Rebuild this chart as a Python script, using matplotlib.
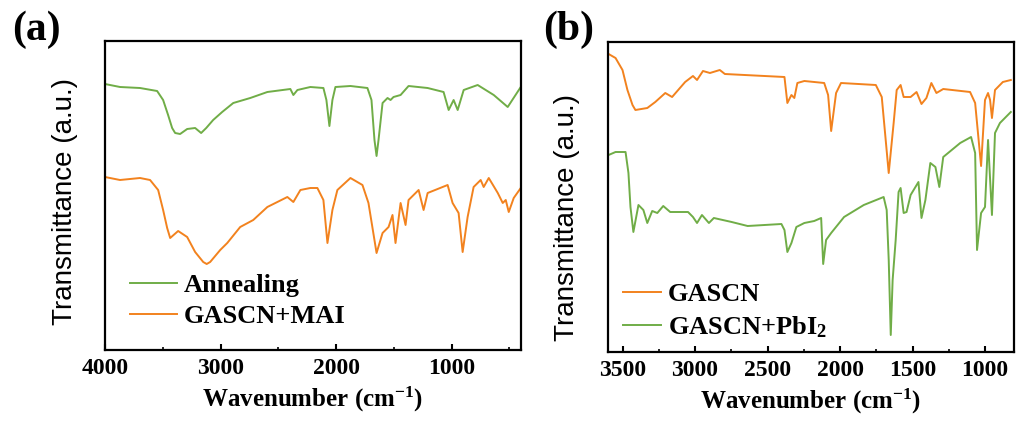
import matplotlib
matplotlib.use("Agg")
import matplotlib.pyplot as plt
from matplotlib.ticker import MultipleLocator

plt.rcParams['mathtext.fontset'] = 'custom'
plt.rcParams['mathtext.rm'] = 'Liberation Serif:bold'
plt.rcParams['mathtext.it'] = 'Liberation Serif:bold'
plt.rcParams['mathtext.bf'] = 'Liberation Serif:bold'

GREEN = '#70AD47'
ORANGE = '#F2821E'

# ---------------- Panel (a) data ----------------
wn_a_anneal = [4000, 3870, 3697, 3549, 3497, 3454, 3419, 3393, 3350, 3289, 3220, 3168, 3124, 3064,
               2986, 2890, 2743, 2595, 2396, 2370, 2335, 2223, 2110, 2084, 2058, 2032, 2006, 1876,
               1729, 1694, 1668, 1650, 1633, 1598, 1555, 1529, 1503, 1442, 1373, 1208, 1070, 1026,
               983, 948, 896, 775, 636, 515, 402]
t_a_anneal = [266, 263, 262, 259, 250, 235, 222, 217, 216, 221, 222, 217, 222, 230,
              238, 247, 252, 258, 261, 255, 260, 263, 262, 250, 224, 250, 263, 264,
              262, 250, 210, 194, 210, 247, 252, 250, 253, 255, 264, 262, 258, 240,
              250, 240, 260, 265, 255, 243, 263]

wn_a_mai = [4000, 3870, 3697, 3610, 3540, 3497, 3462, 3436, 3367, 3289, 3220, 3150, 3120, 3090, 3003,
            2942, 2830, 2717, 2595, 2422, 2370, 2309, 2223, 2162, 2110, 2075, 2032, 1989, 1876,
            1772, 1720, 1650, 1598, 1546, 1512, 1486, 1442, 1399, 1373, 1286, 1243, 1208, 1035,
            992, 940, 905, 862, 810, 749, 723, 679, 601, 558, 532, 506, 463, 402]
t_a_mai = [173, 170, 172, 170, 160, 140, 122, 112, 119, 113, 98, 88, 86, 88, 100,
           107, 123, 130, 143, 153, 148, 160, 162, 162, 150, 107, 140, 160, 172,
           165, 147, 97, 117, 123, 135, 107, 147, 125, 150, 160, 140, 157, 165,
           147, 137, 98, 133, 163, 170, 163, 172, 157, 147, 150, 138, 152, 162]

# ---------------- Panel (b) data ----------------
wn_b_gascn = [3596, 3548, 3500, 3466, 3431, 3411, 3329, 3274, 3205, 3158, 3068, 3014, 2986, 2945,
              2897, 2829, 2794, 2658, 2383, 2363, 2335, 2315, 2294, 2246, 2109, 2082, 2061, 2027,
              1993, 1753, 1712, 1664, 1630, 1609, 1582, 1561, 1513, 1472, 1438, 1404, 1370, 1335,
              1288, 1103, 1068, 1027, 1000, 979, 965, 952, 931, 877, 822]
t_b_gascn = [298, 294, 282, 262, 247, 242, 244, 250, 259, 255, 270, 276, 272, 281,
             279, 282, 278, 277, 275, 249, 257, 254, 269, 271, 269, 257, 221, 259,
             269, 267, 255, 179, 229, 262, 267, 255, 255, 260, 248, 254, 269, 259,
             263, 260, 249, 186, 252, 259, 252, 234, 262, 270, 272]

wn_b_pbi2 = [3596, 3548, 3479, 3459, 3445, 3425, 3390, 3356, 3329, 3295, 3260, 3219, 3171, 3048,
             3014, 2986, 2952, 2904, 2870, 2747, 2637, 2404, 2383, 2363, 2335, 2301, 2246, 2178,
             2130, 2116, 2096, 2061, 1972, 1836, 1699, 1678, 1664, 1650, 1637, 1616, 1596, 1582,
             1561, 1541, 1513, 1459, 1438, 1411, 1377, 1342, 1315, 1288, 1171, 1096, 1068, 1055,
             1027, 1000, 979, 952, 931, 897, 822]
t_b_pbi2 = [197, 200, 200, 179, 145, 120, 147, 142, 129, 141, 139, 146, 140, 140,
            135, 129, 137, 129, 134, 130, 126, 128, 122, 100, 109, 125, 129, 131,
            134, 88, 112, 119, 135, 147, 155, 142, 92, 17, 72, 112, 160, 164,
            139, 140, 157, 170, 134, 152, 189, 185, 165, 195, 209, 215, 199, 102,
            139, 145, 212, 137, 219, 229, 240]

labels_a = ['Annealing', 'GASCN+MAI']
labels_b = ['GASCN', 'GASCN+PbI$_2$']
xticks_a = [4000, 3000, 2000, 1000]
xticks_b = [3500, 3000, 2500, 2000, 1500, 1000]

serif = 'Liberation Serif'
sans = 'Liberation Sans'

fig = plt.figure(figsize=(10.16, 4.21), dpi=100)
ax1 = fig.add_axes([105/1016, 71/421, 416/1016, 309/421])
ax2 = fig.add_axes([608/1016, 69/421, 406/1016, 310/421])

lw = 1.4
ax1.plot(wn_a_anneal, t_a_anneal, color=GREEN, lw=lw, label=labels_a[0])
ax1.plot(wn_a_mai, t_a_mai, color=ORANGE, lw=lw, label=labels_a[1])
ax1.set_xlim(4000, 400)
ax1.set_ylim(0, 309)
ax1.set_xticks(xticks_a)
ax1.xaxis.set_minor_locator(MultipleLocator(500))

ax2.plot(wn_b_gascn, t_b_gascn, color=ORANGE, lw=lw, label=labels_b[0])
ax2.plot(wn_b_pbi2, t_b_pbi2, color=GREEN, lw=lw, label=labels_b[1])
ax2.set_xlim(3600, 800)
ax2.set_ylim(0, 310)
ax2.set_xticks(xticks_b)
ax2.xaxis.set_minor_locator(MultipleLocator(250))

for ax in (ax1, ax2):
    ax.set_yticks([])
    for s in ax.spines.values():
        s.set_linewidth(1.6)
    ax.tick_params(axis='x', which='major', direction='in', length=4, width=1.5,
                   labelsize=17, pad=6)
    ax.tick_params(axis='x', which='minor', direction='in', length=2.5, width=1.2)
    for t in ax.get_xticklabels():
        t.set_fontfamily(serif)
        t.set_fontweight('bold')
    ax.set_xlabel('Wavenumber (cm$^{-1}$)', fontfamily=serif, fontweight='bold',
                  fontsize=18, labelpad=4)
    ax.set_ylabel('Transmittance (a.u.)', fontfamily=sans, fontsize=20)

ax1.yaxis.set_label_coords(-0.065, 0.479)
ax2.yaxis.set_label_coords(-0.069, 0.435)

leg_kw = dict(frameon=False, prop={'family': serif, 'weight': 'bold', 'size': 19},
              handletextpad=0.25, labelspacing=0.3, borderpad=0, borderaxespad=0)
ax1.legend(loc='lower left', bbox_to_anchor=(0.06, 0.07), handlelength=1.8, **leg_kw)
ax2.legend(loc='lower left', bbox_to_anchor=(0.037, 0.04), handlelength=1.45, **leg_kw)

fig.text(12/1016, 1 - 30/421, '(a)', fontfamily=serif, fontweight='bold', fontsize=30,
         va='center', ha='left')
fig.text(543/1016, 1 - 30/421, '(b)', fontfamily=serif, fontweight='bold', fontsize=30,
         va='center', ha='left')

fig.savefig('out.png', dpi=100)
